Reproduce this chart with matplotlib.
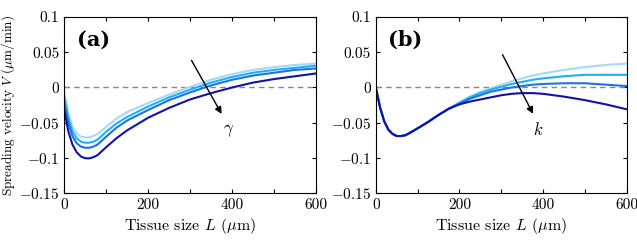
import matplotlib
matplotlib.use("Agg")
import matplotlib.pyplot as plt
import numpy as np

plt.rcParams['font.family'] = 'serif'
plt.rcParams['font.serif'] = ['cmr10', 'DejaVu Serif']
plt.rcParams['mathtext.fontset'] = 'cm'
plt.rcParams['axes.formatter.use_mathtext'] = True

colors = ['#a4d9f7', '#1fb0f5', '#1e72e6', '#1212a8']

# panel (a): varying gamma
L_a = [0, 10, 20, 30, 40, 50, 60, 70, 80, 100, 125, 150, 200, 250, 300, 350, 400, 450, 500, 550, 600]
V_a = [
    [-0.005, -0.036, -0.055, -0.065, -0.070, -0.071, -0.071, -0.069, -0.066, -0.056, -0.044, -0.035,
     -0.022, -0.010, 0.001, 0.011, 0.019, 0.025, 0.029, 0.032, 0.034],
    [-0.012, -0.043, -0.062, -0.072, -0.077, -0.0785, -0.0785, -0.077, -0.074, -0.063, -0.051, -0.042,
     -0.027, -0.014, -0.003, 0.007, 0.015, 0.021, 0.025, 0.028, 0.031],
    [-0.020, -0.050, -0.069, -0.079, -0.084, -0.0856, -0.0856, -0.084, -0.081, -0.070, -0.057, -0.047,
     -0.032, -0.018, -0.007, 0.003, 0.011, 0.017, 0.021, 0.025, 0.027],
    [-0.030, -0.062, -0.081, -0.092, -0.098, -0.1005, -0.1007, -0.099, -0.096, -0.085, -0.072, -0.061,
     -0.043, -0.029, -0.017, -0.008, 0.000, 0.007, 0.012, 0.016, 0.020],
]

# panel (b): varying k
L_b = [0, 10, 20, 30, 40, 50, 60, 70, 80, 100, 125, 150, 175,
       200, 225, 250, 275, 300, 325, 350, 375, 400, 450, 500, 550, 600]
common_b = [0.0, -0.028, -0.048, -0.060, -0.066, -0.069, -0.069, -0.068, -0.065, -0.058, -0.049, -0.039, -0.030]
V_b = [
    common_b + [-0.021, -0.013, -0.006, -0.001, 0.004, 0.009, 0.013, 0.017, 0.020, 0.025, 0.029, 0.032, 0.034],
    common_b + [-0.022, -0.014, -0.008, -0.003, 0.001, 0.005, 0.008, 0.011, 0.013, 0.016, 0.018, 0.018, 0.018],
    common_b + [-0.023, -0.016, -0.011, -0.006, -0.003, 0.000, 0.002, 0.004, 0.005, 0.006, 0.006, 0.004, 0.002],
    common_b + [-0.024, -0.020, -0.017, -0.014, -0.011, -0.009, -0.008, -0.008, -0.009, -0.013, -0.018, -0.024, -0.031],
]

fig = plt.figure(figsize=(6.37, 2.41), dpi=100)
ax1 = fig.add_axes([0.1005, 0.199, 0.396, 0.730])
ax2 = fig.add_axes([0.590, 0.199, 0.394, 0.730])

panels = [
    (ax1, L_a, V_a, '(a)', r'$\gamma$', (300, 0.042), (378, -0.041), (392, -0.062)),
    (ax2, L_b, V_b, '(b)', r'$k$', (300, 0.050), (379, -0.041), (389, -0.060)),
]

for ax, L, V, tag, sym, a0, a1, tp in panels:
    ax.axhline(0, color='#888888', ls=(0, (4, 3)), lw=1)
    for c, v in zip(colors, V):
        ax.plot(L, v, color=c, lw=1.5)
    ax.annotate('', xy=a1, xytext=a0,
                arrowprops=dict(arrowstyle='-|>', color='black', lw=1, mutation_scale=10))
    ax.text(tp[0], tp[1], sym, fontsize=12, ha='center', va='center')
    ax.text(0.05, 0.93, tag, transform=ax.transAxes, fontsize=15, fontweight='bold',
            ha='left', va='top', family='DejaVu Serif')
    ax.set_xlim(0, 600)
    ax.set_ylim(-0.15, 0.1)
    ax.set_xticks(np.arange(0, 601, 100))
    ax.set_xticklabels(['0', '', '200', '', '400', '', '600'])
    ax.set_yticks([-0.15, -0.1, -0.05, 0, 0.05, 0.1])
    ax.set_yticklabels([r'$-0.15$', r'$-0.1$', r'$-0.05$', '0', '0.05', '0.1'])
    ax.tick_params(direction='in', top=True, right=True, labelsize=11, length=3)
    ax.set_xlabel(r'Tissue size $L$ ($\mu$m)', fontsize=11.5, labelpad=3)

ax1.set_ylabel(r'Spreading velocity $V$ ($\mu$m/min)', fontsize=9.5, labelpad=1)
ax1.yaxis.set_label_coords(-0.185, 0.5)

fig.savefig('out.png', dpi=100)
